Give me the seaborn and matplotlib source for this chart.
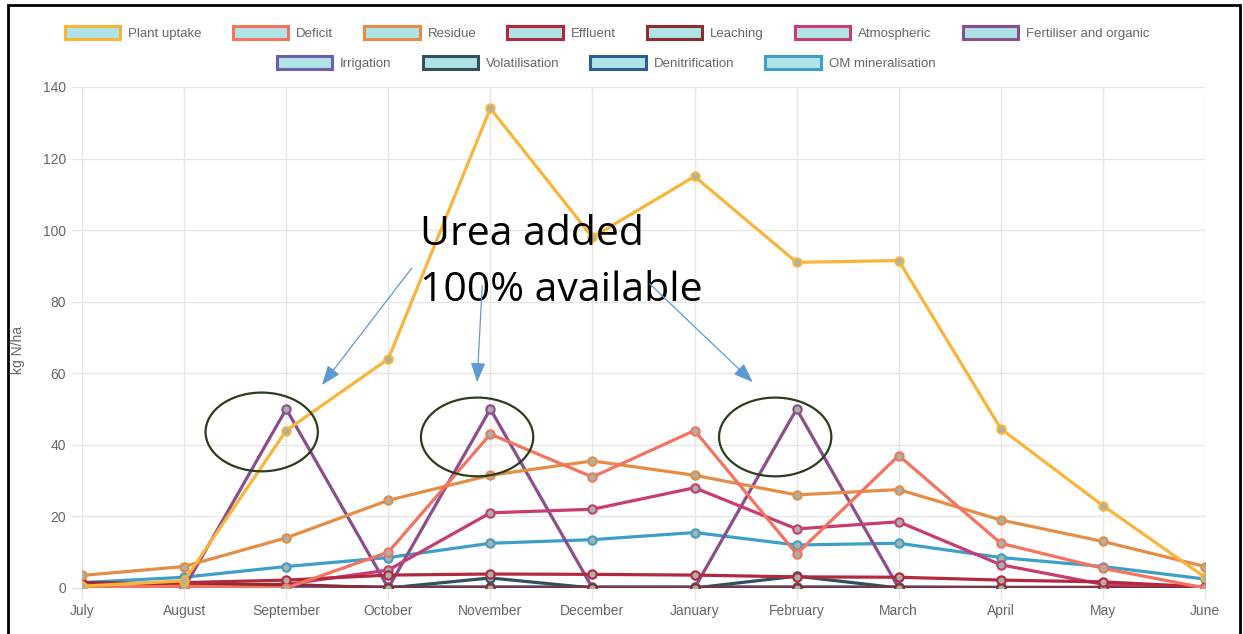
import matplotlib
matplotlib.use("Agg")
import matplotlib.pyplot as plt
import numpy as np
import pandas as pd
import seaborn as sb
from matplotlib.patches import Patch, Ellipse, Rectangle

luni = ["July", "August", "September", "October", "November", "December",
        "January", "February", "March", "April", "May", "June"]

serii = ["Plant uptake", "Deficit", "Residue", "Effluent", "Leaching", "Atmospheric",
         "Fertiliser and organic", "Irrigation", "Volatilisation", "Denitrification",
         "OM mineralisation"]

culori = ["#f9b43a", "#f4735f", "#e58c45", "#b2293f", "#8e2d30", "#c83b73",
          "#8a4e8c", "#6b5fae", "#34505e", "#2c5c92", "#3d9fc9"]

plant_uptake = [0.5, 2, 44, 64, 134, 98, 115, 91, 91.5, 44.5, 23, 3]
deficit = [0, 0.5, 0, 10, 43, 31, 44, 9.5, 37, 12.5, 5.5, 0]
residue = [3.5, 6, 14, 24.5, 31.5, 35.5, 31.5, 26, 27.5, 19, 13, 6]
effluent = [1, 1.5, 2.2, 3.6, 3.9, 3.8, 3.6, 3.1, 3.0, 2.2, 1.7, 0.3]
leaching = [1.5, 1, 1, 0, 0, 0, 0, 0, 0, 0, 0, 0]
atmospheric = [0, 0.5, 1, 5, 21, 22, 28, 16.5, 18.5, 6.5, 1, 0]
fertiliser = [0, 0, 50, 0, 50, 0, 0, 50, 0, 0, 0, 0]
irigatie = [0, 0, 0, 0, 0, 0, 0, 0, 0, 0, 0, 0]
volatilizare = [0, 0, 0, 0, 2.8, 0, 0, 3.3, 0, 0, 0, 0]
denitrificare = [1.5, 1, 0.5, 0.3, 0.3, 0.3, 0.3, 0.3, 0.3, 0.2, 0.2, 0]
om_mineralizare = [1.5, 3, 6, 8.5, 12.5, 13.5, 15.5, 12, 12.5, 8.5, 6, 2.5]

valori = [plant_uptake, deficit, residue, effluent, leaching, atmospheric,
          fertiliser, irigatie, volatilizare, denitrificare, om_mineralizare]

# adnotari: centre elipse (luna, valoare) si sageti (start, tinta)
centre_elipse = [(1.76, 43.6), (3.87, 42.2), (6.79, 42.2)]
sageti = [((3.23, 89.4), (2.35, 56.7)), ((3.92, 84.5), (3.87, 57.5)), ((5.56, 85), (6.57, 57.5))]

t = pd.DataFrame([{"luna": i, "serie": s, "kg": v[i]}
                  for s, v in zip(serii, valori) for i in range(len(luni))])

fig = plt.figure(figsize=(12.43, 6.34), dpi=100)
ax = fig.add_axes([0.066, 0.0726, 0.9034, 0.7902])
gri = "#666666"
grila = "#e6e6e6"

sb.lineplot(data=t, x="luna", y="kg", hue="serie", hue_order=serii[::-1],
            palette=dict(zip(serii, culori)), marker="o", markersize=6,
            markerfacecolor="#a9b2a4", markeredgewidth=1.5, linewidth=2.3,
            legend=False, ax=ax)
for l, c in zip(ax.lines, culori[::-1]):
    l.set_markeredgecolor(c)

ax.set_xlim(0, 11)
ax.set_ylim(0, 140)
ax.set_xticks(range(len(luni)))
ax.set_xticklabels(luni)
ax.set_yticks(np.arange(0, 141, 20))
ax.set_xlabel("")
ax.set_ylabel("")
ax.grid(True, color=grila, linewidth=1)
ax.set_axisbelow(True)
for s in ax.spines.values():
    s.set_visible(False)
ax.tick_params(colors=grila, labelcolor=gri, labelsize=10, length=8, width=1)
for lab in ax.get_xticklabels() + ax.get_yticklabels():
    lab.set_family("Liberation Sans")
fig.text(0.0145, 0.448, "kg N/ha", rotation=90, color=gri, fontsize=10,
         family="Liberation Sans", ha="center", va="center")

# legenda in doua randuri, centrata
h = [Patch(facecolor="#b0e3e6", edgecolor=c, linewidth=2.2, label=s) for s, c in zip(serii, culori)]
opt = dict(loc="center", frameon=False, handlelength=4.2, handleheight=1.1,
           columnspacing=2.35, handletextpad=0.6, prop={"family": "Liberation Sans", "size": 9.5})
leg1 = fig.legend(handles=h[:7], bbox_to_anchor=(0.4885, 0.948), ncol=7, **opt)
leg2 = fig.legend(handles=h[7:], bbox_to_anchor=(0.4875, 0.9), ncol=4, **opt)
for leg in (leg1, leg2):
    for txt in leg.get_texts():
        txt.set_color(gri)

# elipse, text si sageti
for cx, cy in centre_elipse:
    ax.add_patch(Ellipse((cx, cy), 1.1, 22, fill=False, edgecolor="#2b3d1b", linewidth=1.6, zorder=20))
ax.text(3.31, 95.8, "Urea added", fontsize=29.5, family="Open Sans",
        va="baseline", ha="left", color="black", zorder=21)
ax.text(3.31, 80.2, "100% available", fontsize=29.5, family="Open Sans",
        va="baseline", ha="left", color="black", zorder=21)
for (x0, y0), (x1, y1) in sageti:
    ax.annotate("", xy=(x1, y1), xytext=(x0, y0),
                arrowprops=dict(arrowstyle="-|>,head_length=1.2,head_width=0.45",
                                color="#5b9bd5", lw=0.9, shrinkA=0, shrinkB=0), zorder=21)

# chenar
fig.add_artist(Rectangle((8 / 1243, -0.02), 1232 / 1243, 1.02 - 5 / 634, transform=fig.transFigure,
                         fill=False, edgecolor="black", linewidth=2))

fig.savefig("out.png", dpi=100)
